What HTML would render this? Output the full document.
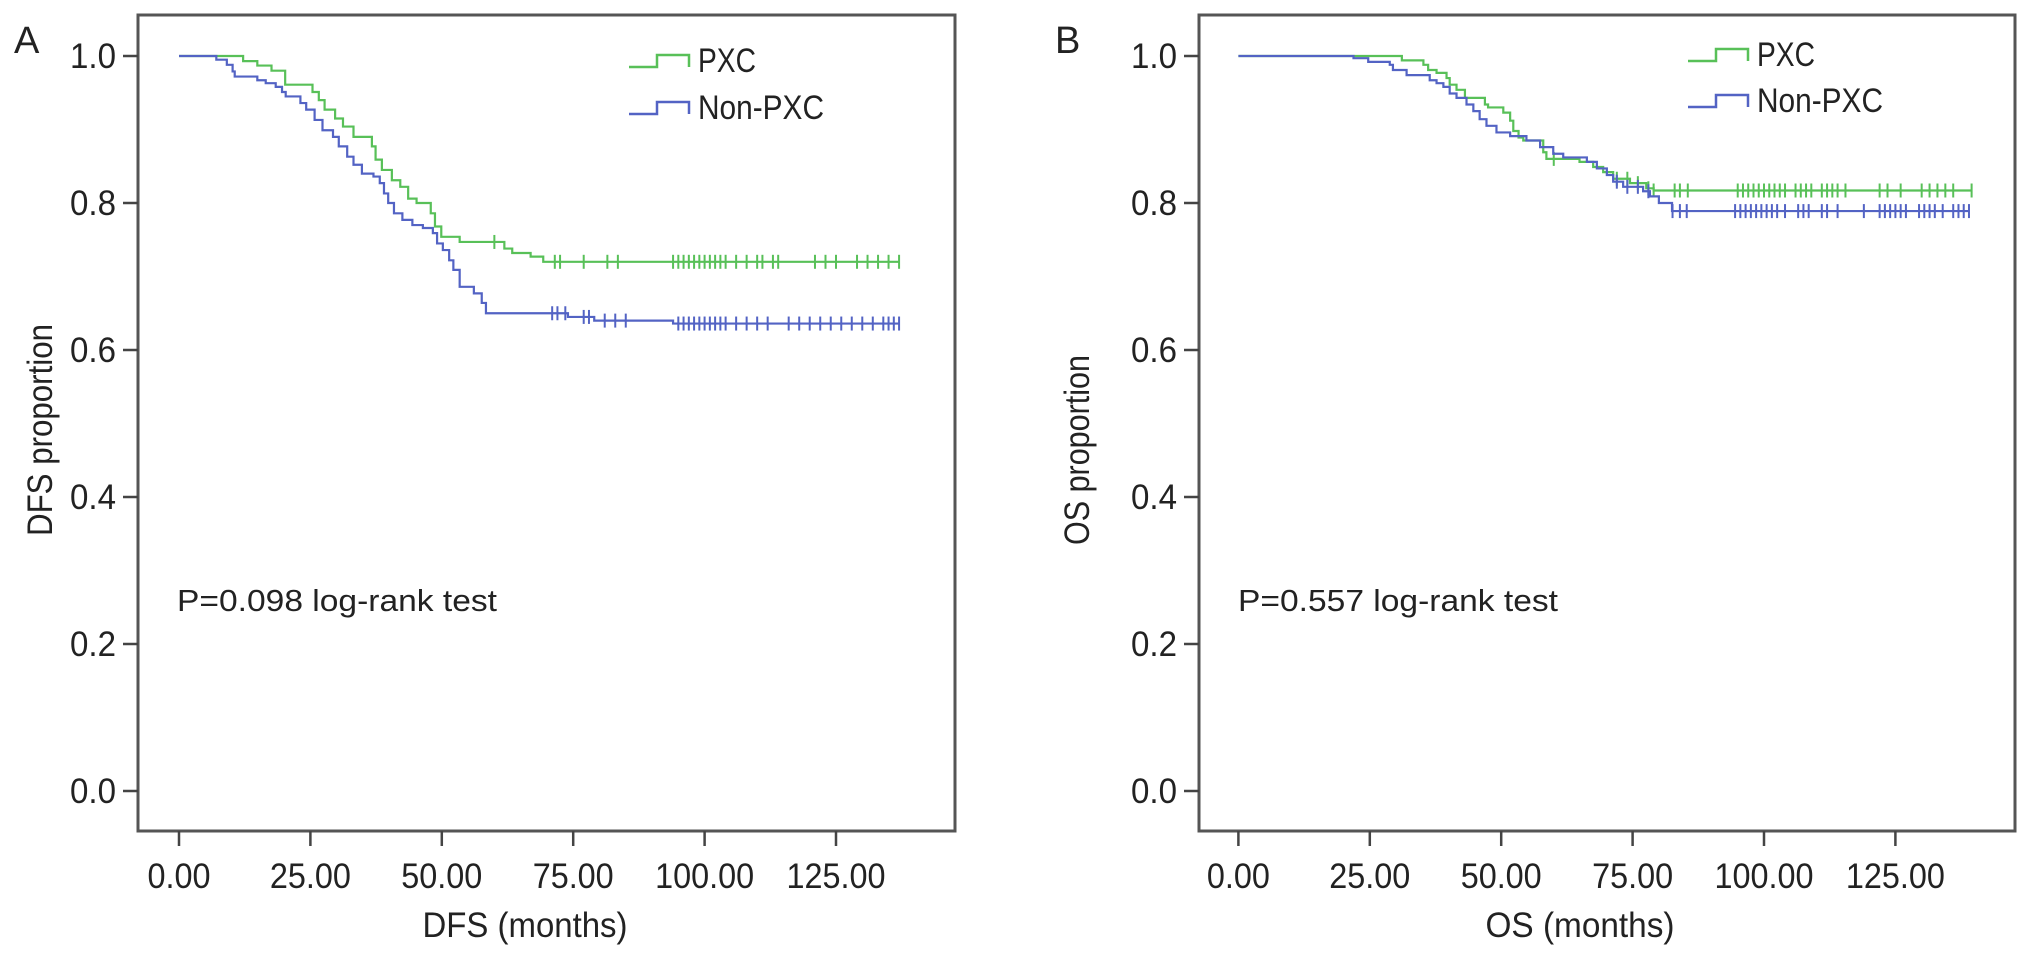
<!DOCTYPE html>
<html><head><meta charset="utf-8">
<style>
html,body{margin:0;padding:0;background:#fff;}
svg{display:block;}
text{font-family:"Liberation Sans",Arial,sans-serif;fill:#222;}
</style></head>
<body>
<svg id="chart" width="2032" height="958" viewBox="0 0 2032 958" xmlns="http://www.w3.org/2000/svg"></svg>
<script>
// ---- data ----
const xTickValues = [0,25,50,75,100,125];
const xTickLabels = ["0.00","25.00","50.00","75.00","100.00","125.00"];
const yTickValues = [0,0.2,0.4,0.6,0.8,1.0];
const yTickLabels = ["0.0","0.2","0.4","0.6","0.8","1.0"];

// Panel A (DFS)
const dfsPxcTimes = [12.2,14.9,17.6,20.2,25.4,26.6,27.7,29.7,31.2,33.2,36.7,37.4,38.6,40.5,42.1,43.6,45.2,47.9,48.7,49.9,53.4,61.9,63.4,66.9,69.3];
const dfsPxcSurv  = [.993,.987,.980,.961,.951,.940,.927,.915,.904,.890,.877,.859,.845,.831,.822,.806,.800,.786,.768,.754,.747,.738,.732,.727,.720];
const dfsPxcCensor = [60,71.5,72.5,77,81.5,83.5,94,95,96,97,98,99,100,101,102,103,104,106,108,110,111,113,114,121,123,125,129,131,133,135,137];
const dfsNonTimes = [7.1,9.1,10.2,10.6,14.9,16.5,18.4,19.6,20.3,23.1,24.2,25.8,27.3,29.3,30.4,32.0,33.2,34.8,37.0,38.2,39.0,39.8,40.9,42.5,44.4,46.4,48.3,49.1,50.2,51.4,52.2,53.4,56.1,57.6,58.4,74,79,94];
const dfsNonSurv  = [.995,.988,.979,.972,.967,.963,.958,.951,.945,.936,.927,.913,.899,.890,.877,.863,.852,.840,.836,.827,.813,.800,.786,.777,.770,.766,.759,.745,.736,.722,.709,.686,.677,.664,.650,.645,.640,.636];
const dfsNonCensor = [71,72,73.5,77,78,81,83,85,95,96,97,98,99,100,101,102,103,104,106,108,110,112,116,118,120,122,124,126,128,130,132,134,135,136,137];

// Panel B (OS)
const osPxcTimes = [31.1,35.2,36.1,37.7,39.6,40.2,41.5,43.1,46.9,47.5,50.4,51.7,52.3,53.3,54.2,58.0,58.6,64.9,67.5,69.4,71.3,74.5,77.6,79];
const osPxcSurv  = [.994,.988,.981,.977,.970,.961,.954,.943,.934,.930,.923,.912,.898,.889,.885,.869,.860,.856,.849,.842,.833,.827,.820,.817];
const osPxcCensor = [60,72,74,76,78,79,83,84,85.5,95,96,97,98,99,100,101,102,103,104,106,107,108,109,111,112,113,114,115.5,122,123.5,126,130,131.5,133,134.5,136,139.5];
const osNonTimes = [21.9,24.7,28.8,29.4,32,36.4,37.7,39.0,40.2,41.5,43.4,44.7,45.9,47.2,49.1,51.7,54.8,57.4,59.9,61.8,66.3,68.2,70.1,71.3,73.2,77.0,78.3,80,82.5];
const osNonSurv  = [.997,.992,.988,.981,.974,.967,.963,.958,.949,.943,.934,.925,.914,.905,.896,.891,.885,.876,.867,.862,.856,.847,.838,.829,.822,.816,.809,.800,.789];
const osNonCensor = [72,74,76,78,82.6,84,85.3,94.5,95.5,96.5,97.5,98.5,99.5,100.5,101.5,102.5,104,106.5,107.5,108.5,111,112,114,119,122,123,124,125,126,127,129.5,130.5,131.5,132.5,134,136,137,138,139];

const GREEN = "#58c058", BLUE = "#5363c4";
const NS = "http://www.w3.org/2000/svg";
const svg = document.getElementById('chart');

function mk(tag, attrs, parent){
  const e = document.createElementNS(NS, tag);
  for (const k in attrs) e.setAttribute(k, attrs[k]);
  (parent||svg).appendChild(e);
  return e;
}
function txt(parent, x, y, s, size, anchor, len, extra){
  const t = mk('text', Object.assign({x:x, y:y, 'font-size':size, 'text-anchor':anchor||'start'}, extra||{}), parent);
  if (len){ t.setAttribute('textLength', len); t.setAttribute('lengthAdjust','spacingAndGlyphs'); }
  t.textContent = s;
  return t;
}

function survAt(times, surv, t){
  let s = 1;
  for (let i=0;i<times.length;i++){ if (times[i] <= t) s = surv[i]; }
  return s;
}

function panel(cfg){
  const g = mk('g', {});
  
  
  const L = cfg.left, R = cfg.right, T = 15, B = 831;
  const X = t => cfg.x0 + t * 131.4 / 25;
  const Y = s => 791 - s * 735;

  const frame = mk('rect', {x:L, y:T, width:R-L, height:B-T, fill:'none', stroke:'#555', 'stroke-width':3}, g);
  
  

  const xa = mk('g', {}, g);
  
  
  xTickValues.forEach((v,i)=>{
    mk('line', {x1:X(v), x2:X(v), y1:B, y2:846, stroke:'#444', 'stroke-width':2.5}, xa);
    const n = xTickLabels[i].length;
    const w = n===6 ? 99 : (n===5 ? 81 : 63);
    const lbl = txt(xa, X(v), 888, xTickLabels[i], 35, 'middle', w);
    
    
  });
  const xt = txt(g, cfg.xTitleX, 937, cfg.xTitle, 35, 'middle', cfg.xTitleW);
  
  

  const ya = mk('g', {}, g);
  
  
  yTickValues.forEach((v,i)=>{
    mk('line', {x1:L-15, x2:L, y1:Y(v), y2:Y(v), stroke:'#444', 'stroke-width':2.5}, ya);
    const lbl = txt(ya, L-22, Y(v)+12, yTickLabels[i], 35, 'end', 46);
    
    
  });
  const yt = txt(g, 0, 0, cfg.yTitle, 35, 'middle', cfg.yTitleW, {transform:`translate(${cfg.yTitleX},${cfg.yTitleY}) rotate(-90)`});
  
  

  cfg.series.forEach(sr=>{
    let d = `M${X(0)},${Y(1)}`;
    for (let i=0;i<sr.times.length;i++){
      d += ` H${X(sr.times[i])} V${Y(sr.surv[i])}`;
    }
    const lastT = Math.max(sr.censor[sr.censor.length-1], sr.times[sr.times.length-1]);
    d += ` H${X(lastT)}`;
    const p = mk('path', {d:d, fill:'none', stroke:sr.color, 'stroke-width':2.2}, g);
    
    
    const cg = mk('g', {stroke:sr.color, 'stroke-width':2}, g);
    
    
    sr.censor.forEach(t=>{
      const s = survAt(sr.times, sr.surv, t);
      const m = mk('line', {x1:X(t), x2:X(t), y1:Y(s)-7, y2:Y(s)+7}, cg);
      
      
    });
  });

  const lg = mk('g', {}, g);
  
  
  cfg.series.forEach((sr,i)=>{
    const by = cfg.legY[i];
    const lx = cfg.legX;
    const e = mk('g', {}, lg);
    
    
    mk('path', {d:`M${lx},${by-3} H${lx+28} V${by-15} H${lx+60} V${by-3}`, fill:'none', stroke:sr.color, 'stroke-width':2.5}, e);
    txt(e, lx+69, by+2, sr.label, 34, 'start', sr.label.length===3 ? 58 : 126);
  });

  const pv = txt(g, L+39, 611, cfg.pText, 31, 'start', 320);
  
  

  const pl = txt(g, cfg.letterX, 53, cfg.letter, 38, 'start');
  
  
}

panel({
  name:'panel-a-dfs', left:138, right:955, x0:179,
  xTitle:'DFS (months)', xTitleX:525, xTitleW:205,
  yTitle:'DFS proportion', yTitleX:52, yTitleY:430, yTitleW:212,
  pText:'P=0.098 log-rank test', letter:'A', letterX:14,
  legX:629, legY:[70,117],
  series:[
    {name:'pxc', label:'PXC', color:GREEN, times:dfsPxcTimes, surv:dfsPxcSurv, censor:dfsPxcCensor},
    {name:'non-pxc', label:'Non-PXC', color:BLUE, times:dfsNonTimes, surv:dfsNonSurv, censor:dfsNonCensor}
  ]
});
panel({
  name:'panel-b-os', left:1199, right:2015, x0:1238.4,
  xTitle:'OS (months)', xTitleX:1580, xTitleW:189,
  yTitle:'OS proportion', yTitleX:1089, yTitleY:450, yTitleW:190,
  pText:'P=0.557 log-rank test', letter:'B', letterX:1055,
  legX:1688, legY:[64,110],
  series:[
    {name:'pxc', label:'PXC', color:GREEN, times:osPxcTimes, surv:osPxcSurv, censor:osPxcCensor},
    {name:'non-pxc', label:'Non-PXC', color:BLUE, times:osNonTimes, surv:osNonSurv, censor:osNonCensor}
  ]
});
</script>
</body></html>
